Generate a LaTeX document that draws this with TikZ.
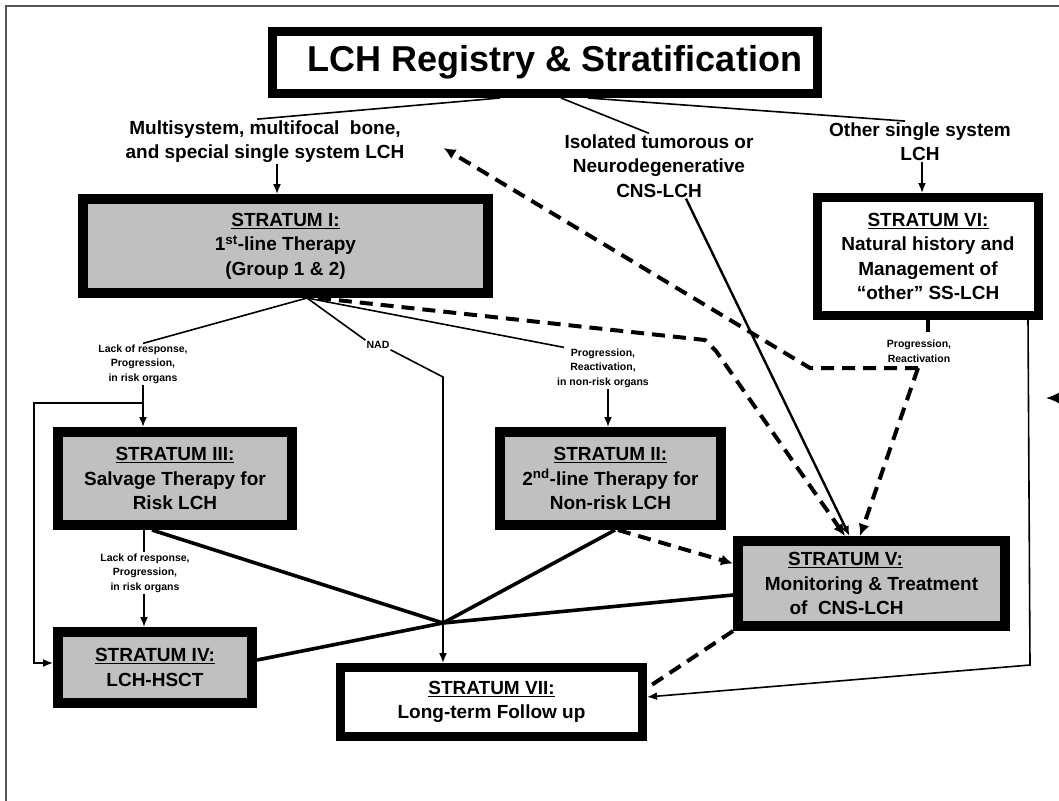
\documentclass[tikz,border=0pt]{standalone}
\usepackage{fontspec}
\setmainfont{Liberation Sans}
\usetikzlibrary{arrows.meta,calc}
\definecolor{boxgray}{HTML}{C0C0C0}
\definecolor{framegray}{HTML}{555555}
\begin{document}
\begin{tikzpicture}[x=1pt,y=-1pt,
  box/.style={draw, line width=10pt, fill=boxgray, inner sep=0pt, align=center,
    font=\bfseries\fontsize{19}{24.5}\selectfont},
  wbox/.style={box, fill=white, line width=9pt},
  lbl/.style={inner sep=1pt, align=center, font=\bfseries\fontsize{19}{24.5}\selectfont},
  small/.style={inner sep=1pt, align=center, font=\bfseries\fontsize{10.5}{14.5}\selectfont},
  thinline/.style={line width=1.6pt},
  heavy/.style={line width=3.6pt},
  dsh/.style={line width=4pt, dash pattern=on 13pt off 8pt},
  tip/.style={-{Latex[length=10pt,width=8pt]}},
  dtip/.style={-{Latex[length=12pt,width=11pt]}}]
\useasboundingbox (0,0) rectangle (1059,800);
\clip (0,0) rectangle (1059,800);
\fill[white] (0,0) rectangle (1059,800);
\draw[framegray, line width=1.5pt] (6,6) rectangle (1090,830);

% title and entry labels
\node[wbox, minimum width=545pt, minimum height=62pt,
  font=\bfseries\fontsize{36}{40}\selectfont] (title) at (545,62.5) {\hspace*{20pt}LCH Registry \& Stratification};
\node[lbl] (lblL) at (265,141.5) {Multisystem, multifocal\ \ bone,\\and special single system LCH};
\node[lbl] (lblM) at (659,166) {Isolated tumorous or\\Neurodegenerative\\CNS-LCH};
\node[lbl] (lblR) at (920,141.5) {Other single system\\LCH};

% strata
\node[box, minimum width=405pt, minimum height=94pt] (s1) at (285.5,246)
  {\underline{STRATUM I:}\\1\textsuperscript{st}-line Therapy\\(Group 1 \& 2)};
\node[wbox, minimum width=221pt, minimum height=118pt] (s6) at (928,256.5)
  {\underline{STRATUM VI:}\\Natural history and\\Management of\\“other” SS-LCH};
\node[box, minimum width=234pt, minimum height=93pt] (s3) at (175,478.5)
  {\underline{STRATUM III:}\\Salvage Therapy for\\Risk LCH};
\node[box, minimum width=221pt, minimum height=93pt] (s2) at (610.5,478.5)
  {\underline{STRATUM II:}\\2\textsuperscript{nd}-line Therapy for\\Non-risk LCH};
\node[box, minimum width=267pt, minimum height=85pt] (s5) at (871.5,583.5)
  {\underline{STRATUM V:}\hspace*{52pt}\\Monitoring \& Treatment\hspace*{12pt}\\of\ \ CNS-LCH\hspace*{50pt}};
\node[box, minimum width=194pt, minimum height=71pt] (s4) at (155,667.5)
  {\underline{STRATUM IV:}\\LCH-HSCT};
\node[wbox, minimum width=302pt, minimum height=69pt] (s7) at (491.5,702)
  {\underline{STRATUM VII:}\\Long-term Follow up};

% small labels
\node[small] (lblA) at (143,364) {Lack of response,\\Progression,\\in risk organs};
\node[small] (lblNAD) at (378,345) {NAD};
\node[small] (lblB) at (603,368) {Progression,\\Reactivation,\\in non-risk organs};
\node[small] (lblC) at (145,573) {Lack of response,\\Progression,\\in risk organs};
\node[small] (lblD) at (919,351) {Progression,\\Reactivation};

% junction coordinates
\coordinate (nadc) at (443,377);
\coordinate (hub) at (443,623);
\coordinate (loopA) at (143,403);
\coordinate (loopB) at (34,403);
\coordinate (loopC) at (34,663);
\coordinate (d1a) at (705,340);
\coordinate (d1b) at (716,351);
\coordinate (dv) at (918,368);
\coordinate (dw) at (810,368);
\coordinate (rc) at (1030,665);
\coordinate (edgeR) at (1100,398);
\coordinate (edgeTip) at (1046,398);

% title to entry labels
\draw[thinline] ([xshift=-45pt]title.south) -- ([xshift=-8pt]lblL.north);
\draw[thinline] ([xshift=16pt]title.south) -- ([xshift=-10pt]lblM.north);
\draw[thinline] ([xshift=43pt]title.south) -- ([xshift=-15pt]lblR.north);

\path ([xshift=12pt]lblL.south) coordinate (aL);
\draw[thinline,tip] (aL) -- (aL |- s1.north);
\path ([xshift=2pt]lblR.south) coordinate (aR);
\draw[thinline,tip] (aR) -- (aR |- s6.north);

% stratum I fan
\path ([xshift=21.5pt]s1.south) coordinate (p1);
\draw[thinline] (p1) -- (lblA.north);
\draw[thinline] (p1) -- (lblNAD.north west);
\draw[thinline] (p1) -- ([xshift=-39pt]lblB.north);
\draw[thinline,tip] (lblNAD.south east) -- (nadc) -- (nadc |- s7.north);

\draw[thinline,tip] (lblA.south) -- (lblA.south |- s3.north);
\draw[thinline,tip] (loopA) -- (loopB) -- (loopC) -- (loopC -| s4.west);
\path ([xshift=5pt]lblB.south) coordinate (aB);
\draw[thinline,tip] (aB) -- (aB |- s2.north);

\path ([xshift=-31pt]s3.south) coordinate (p3);
\draw[thinline] (p3) -- (p3 |- lblC.north);
\draw[thinline,tip] (p3 |- lblC.south) -- (p3 |- s4.north);

% converging heavy lines
\draw[heavy] ([xshift=-23pt]s3.south) -- (hub);
\draw[heavy] ([xshift=4.5pt]s2.south) -- (hub);
\draw[heavy] ([yshift=-11.5pt]s5.west) -- (hub);
\draw[heavy] (hub) -- ([yshift=7.5pt]s4.east);

% dashed paths
\draw[dsh,dtip] ([xshift=32.5pt]s1.south) -- (d1a) -- (d1b) -- ([xshift=-26.5pt]s5.north);
\draw[line width=4pt] (s6.south) -- ++(0,12);
\draw[dsh,dtip] (dv) -- (dw) -- ([xshift=38pt,yshift=-6.5pt]lblL.east);
\draw[dsh,dtip] (dv) -- ([xshift=-11.5pt]s5.north);
\draw[line width=2.4pt,tip] ([xshift=27pt]lblM.south) -- ([xshift=-22pt]s5.north);
\draw[dsh,dtip] ([xshift=7.5pt]s2.south) -- ([yshift=20pt]s5.west);
\draw[dsh] (s5.south west) -- ([yshift=14pt]s7.east);
\draw[thinline,tip] ([xshift=100pt]s6.south) -- (rc) -- ([yshift=5pt]s7.east);

% arrow entering from the right edge
\draw[line width=1.5pt,-{Latex[length=14pt,width=12pt]}] (edgeR) -- (edgeTip);
\end{tikzpicture}
\end{document}
